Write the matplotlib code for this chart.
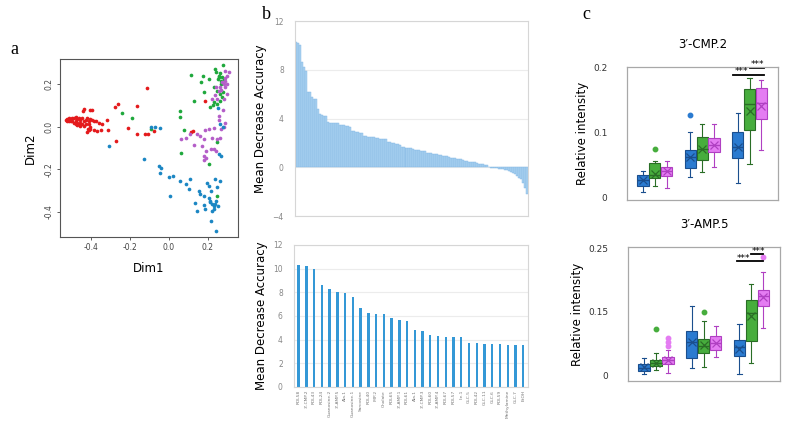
import numpy as np
import matplotlib
matplotlib.use("Agg")
import matplotlib.pyplot as plt

# ---- panel a: MDS scatter (Dim1, Dim2) per group ----
red_x = [-0.528, -0.520, -0.511, -0.503, -0.494, -0.486, -0.477, -0.469, -0.460, -0.452,
         -0.443, -0.435, -0.511, -0.494, -0.477, -0.469, -0.460, -0.452, -0.443, -0.486,
         -0.503, -0.520, -0.426, -0.418, -0.409, -0.401, -0.392, -0.384, -0.370, -0.358,
         -0.344, -0.315, -0.435, -0.440, -0.401, -0.392, -0.409, -0.401, -0.409, -0.418,
         -0.414, -0.401, -0.384, -0.366, -0.349, -0.310, -0.435, -0.452, -0.469, -0.477,
         -0.426, -0.273, -0.261, -0.162, -0.208, -0.162, -0.124, -0.106, -0.077, -0.269,
         -0.111, 0.186, 0.116, 0.124]
red_y = [0.033, 0.036, 0.038, 0.035, 0.042, 0.039, 0.045, 0.036, 0.042, 0.033,
         0.039, 0.027, 0.027, 0.024, 0.027, 0.019, 0.011, 0.019, 0.014, 0.017,
         0.024, 0.027, 0.033, 0.038, 0.027, 0.035, 0.030, 0.027, 0.024, 0.019,
         0.014, 0.031, 0.082, 0.074, 0.078, 0.077, 0.011, -0.002, -0.017, -0.025,
         -0.013, -0.013, -0.017, -0.020, -0.017, -0.016, 0.003, 0.003, 0.006, 0.011,
         0.014, 0.094, 0.108, 0.096, -0.008, -0.036, -0.033, -0.033, -0.020, -0.067,
         0.179, 0.121, -0.024, -0.022]
green_x = [-0.237, -0.187, -0.089, 0.060, 0.056, 0.077, 0.065, 0.112, 0.174, 0.167,
           0.181, 0.130, 0.205, 0.239, 0.244, 0.276, 0.264, 0.256, 0.269, 0.230,
           0.247, 0.264, 0.278, 0.213, 0.227, 0.247, 0.264, 0.274, 0.247, 0.206,
           0.247, 0.259, 0.273, 0.252, 0.281, 0.268, 0.230]
green_y = [0.064, 0.038, -0.013, 0.071, 0.045, -0.016, -0.125, 0.242, 0.238, 0.207,
           0.163, 0.121, 0.221, 0.270, 0.254, 0.290, 0.249, 0.231, 0.215, 0.187,
           0.168, 0.152, 0.160, 0.094, 0.100, 0.108, 0.121, 0.140, -0.072, -0.174,
           -0.326, 0.238, 0.231, 0.223, 0.223, 0.199, 0.113]
purple_x = [0.290, 0.307, 0.298, 0.290, 0.290, 0.273, 0.281, 0.298, 0.290, 0.264,
            0.244, 0.256, 0.239, 0.222, 0.247, 0.281, 0.298, 0.268, 0.276, 0.259,
            0.256, 0.286, 0.281, 0.268, 0.234, 0.264, 0.247, 0.222, 0.205, 0.187,
            0.162, 0.179, 0.145, 0.128, 0.170, 0.218, 0.230, 0.244, 0.193, 0.182,
            0.179, 0.193, 0.063, 0.107, 0.090]
purple_y = [0.262, 0.254, 0.238, 0.227, 0.215, 0.207, 0.199, 0.199, 0.184, 0.184,
            0.184, 0.168, 0.149, 0.129, 0.129, 0.129, 0.152, 0.171, 0.077, 0.050,
            0.030, 0.019, 0.000, -0.013, -0.005, -0.052, -0.060, -0.052, -0.013, -0.017,
            -0.044, -0.060, -0.033, -0.086, -0.091, -0.104, -0.107, -0.115, -0.115, -0.140,
            -0.158, -0.146, -0.060, -0.033, -0.055]
blue_x = [-0.307, -0.090, -0.070, -0.043, -0.128, -0.049, -0.039, -0.046, 0.000, 0.020,
          0.060, 0.107, 0.090, 0.102, 0.005, 0.136, 0.145, 0.153, 0.162, 0.179,
          0.196, 0.205, 0.216, 0.237, 0.261, 0.247, 0.205, 0.213, 0.222, 0.230,
          0.239, 0.252, 0.222, 0.230, 0.179, 0.187, 0.216, 0.242, 0.244, 0.213,
          0.252, 0.264, 0.278, 0.268, 0.256]
blue_y = [-0.091, -0.003, -0.002, -0.005, -0.154, -0.185, -0.193, -0.216, -0.237, -0.232,
          -0.256, -0.248, -0.271, -0.295, -0.326, -0.358, -0.397, -0.303, -0.318, -0.326,
          -0.264, -0.279, -0.303, -0.248, -0.256, -0.284, -0.334, -0.350, -0.365, -0.373,
          -0.365, -0.373, -0.397, -0.389, -0.369, -0.389, -0.444, -0.491, -0.350, -0.355,
          0.085, 0.011, -0.002, -0.138, -0.130]

# ---- panel b (top): mean decrease accuracy, all features sorted ----
mda_all = [10.3, 10.2, 10.0, 8.6, 8.2, 7.9, 6.2, 6.2, 5.8, 5.6,
           5.6, 4.8, 4.4, 4.3, 4.2, 4.2, 3.7,
           3.65, 3.65, 3.6, 3.6, 3.6,
           3.5, 3.5, 3.45, 3.4, 3.35, 3.3,
           3.0, 2.95, 2.9, 2.9, 2.85, 2.8,
           2.6, 2.55, 2.5, 2.5, 2.45, 2.45, 2.4, 2.4, 2.35, 2.35, 2.3, 2.3,
           2.1, 2.05, 2.0, 1.95, 1.9, 1.9, 1.85,
           1.7, 1.65, 1.6, 1.6, 1.55, 1.55,
           1.5, 1.45, 1.45, 1.4, 1.35, 1.3, 1.3,
           1.2, 1.2, 1.15, 1.1, 1.1, 1.05, 1.0, 1.0,
           0.95, 0.9, 0.9, 0.85, 0.8, 0.8, 0.75, 0.7, 0.7, 0.65, 0.6, 0.55,
           0.5, 0.45, 0.45, 0.4, 0.4, 0.35, 0.3, 0.3, 0.25, 0.2, 0.15,
           0.05, -0.05, -0.08,
           -0.1, -0.1, -0.12, -0.15, -0.15, -0.2, -0.25,
           -0.3, -0.35, -0.45, -0.55,
           -0.7, -0.85, -1.0,
           -1.3, -1.7, -2.2]

# ---- panel b (bottom): top 30 features ----
top_names = ["RDL58", "3'-CMP.2", "RDL43", "RDL24", "Guanosine.2", "3'-AMP.5", "Ala.1",
             "Guanosine.1", "Sarcosine", "RDL40", "IMP.2", "Cholate", "RDL65", "3'-AMP.1",
             "RDL61", "Ala.1", "3'-CMP.3", "RDL60", "3'-AMP.4", "RDL67", "RDL57", "Ile.1",
             "GLC.5", "RDL42", "GLC.11", "GLC.6", "RDL59", "Methylamine", "GLC.7", "EtOH"]
top_mda = [10.3, 10.25, 10.0, 8.65, 8.25, 8.0, 7.95, 7.6, 6.65, 6.25,
           6.2, 6.2, 5.8, 5.65, 5.6, 4.8, 4.75, 4.4, 4.35, 4.25,
           4.2, 4.2, 3.7, 3.7, 3.65, 3.6, 3.6, 3.55, 3.55, 3.55]

# ---- panel c: box statistics (3 time points x 3 groups) ----
# order per time point: blue, green, magenta
cmp_q1 = [0.018, 0.029, 0.033, 0.045, 0.057, 0.069, 0.060, 0.104, 0.121]
cmp_med = [0.027, 0.035, 0.040, 0.062, 0.075, 0.081, 0.078, 0.143, 0.145]
cmp_q3 = [0.035, 0.053, 0.047, 0.073, 0.093, 0.091, 0.100, 0.167, 0.168]
cmp_lo = [0.008, 0.018, 0.015, 0.032, 0.039, 0.046, 0.022, 0.052, 0.072]
cmp_hi = [0.041, 0.056, 0.056, 0.100, 0.113, 0.113, 0.130, 0.183, 0.180]
cmp_mean = [0.027, 0.036, 0.040, 0.062, 0.074, 0.080, 0.078, 0.133, 0.140]
cmp_out = [[], [0.075], [], [0.126], [], [], [], [], []]

amp_q1 = [0.009, 0.018, 0.022, 0.034, 0.043, 0.049, 0.038, 0.067, 0.136]
amp_med = [0.015, 0.024, 0.030, 0.065, 0.058, 0.064, 0.055, 0.122, 0.155]
amp_q3 = [0.022, 0.030, 0.036, 0.087, 0.072, 0.077, 0.069, 0.148, 0.168]
amp_lo = [0.002, 0.010, 0.005, 0.014, 0.016, 0.036, 0.003, 0.025, 0.094]
amp_hi = [0.034, 0.043, 0.049, 0.137, 0.107, 0.097, 0.100, 0.180, 0.203]
amp_mean = [0.016, 0.025, 0.030, 0.065, 0.060, 0.064, 0.052, 0.116, 0.153]
amp_out = [[], [0.092], [0.057, 0.066, 0.074], [], [0.124], [], [], [], [0.232]]

box_pos = [0, 1, 2, 4, 5, 6, 8, 9, 10]
fills = ['#2b7bd0', '#47ad3d', '#e47cf2'] * 3
edges = ['#1b4f8e', '#2a6e26', '#b040c2'] * 3

fig = plt.figure(figsize=(7.86, 4.28), dpi=100)

# ================= a =================
ax = fig.add_axes([0.0763, 0.4463, 0.2265, 0.4159])
ax.scatter(red_x, red_y, s=7, color='#e41a1c', linewidths=0)
ax.scatter(green_x, green_y, s=7, color='#1fa83c', linewidths=0)
ax.scatter(purple_x, purple_y, s=7, color='#b45ec8', linewidths=0)
ax.scatter(blue_x, blue_y, s=7, color='#1b86c3', linewidths=0)
ax.set_xlim(-0.557, 0.3545)
ax.set_ylim(-0.518, 0.317)
ax.set_xticks([-0.4, -0.2, 0.0, 0.2])
ax.set_yticks([-0.4, -0.2, 0.0, 0.2])
ax.set_xticklabels(['-0.4', '-0.2', '0.0', '0.2'])
ax.set_yticklabels(['-0.4', '-0.2', '0.0', '0.2'], rotation=90, va='center')
ax.tick_params(labelsize=5.5, length=2.5, width=0.6, colors='#444444', pad=2)
for s in ax.spines.values():
    s.set_color('#555555')
    s.set_linewidth(0.8)
ax.set_xlabel('Dim1', fontsize=8.5, labelpad=7)
ax.set_ylabel('Dim2', fontsize=8.5, labelpad=6)

# ================= b top =================
ax = fig.add_axes([0.3753, 0.4953, 0.2964, 0.4556])
n = len(mda_all)
ax.bar(np.arange(n), mda_all, width=1.0, color='#a9d1f0', edgecolor='#7fb6e3', linewidth=0.3)
ax.set_xlim(-0.5, n - 0.5)
ax.set_ylim(-4, 12)
ax.set_yticks([-4, 0, 4, 8, 12])
ax.set_xticks([])
ax.grid(axis='y', color='#ececec', linewidth=0.8)
ax.set_axisbelow(True)
ax.tick_params(axis='y', length=0, labelsize=5.5, colors='#888888', pad=8)
for s in ax.spines.values():
    s.set_color('#d6d6d6')
    s.set_linewidth(0.8)
ax.set_ylabel('Mean Decrease Accuracy', fontsize=8.5, labelpad=4)

# ================= b bottom =================
ax = fig.add_axes([0.374, 0.0958, 0.2977, 0.3318])
ax.bar(np.arange(len(top_mda)), top_mda, width=0.3, color='#3498d6')
ax.set_xlim(-0.6, len(top_mda) - 0.4)
ax.set_ylim(0, 12)
ax.set_yticks(range(0, 13, 2))
ax.set_xticks(np.arange(len(top_mda)))
ax.set_xticklabels(top_names, rotation=90, fontsize=3.2, color='#777777')
ax.grid(axis='y', color='#ececec', linewidth=0.8)
ax.set_axisbelow(True)
ax.tick_params(axis='y', length=0, labelsize=5.5, colors='#888888', pad=8)
ax.tick_params(axis='x', length=0, pad=2)
for s in ax.spines.values():
    s.set_color('#d6d6d6')
    s.set_linewidth(0.8)
ax.set_ylabel('Mean Decrease Accuracy', fontsize=8.5, labelpad=4)


def box_panel(rect, q1, med, q3, lo, hi, mean, out, title, ylim, yticks, ylabels, sig):
    ax = fig.add_axes(rect)
    for i in range(len(med)):
        st = dict(q1=q1[i], med=med[i], q3=q3[i], whislo=lo[i],
                  whishi=hi[i], mean=mean[i], fliers=out[i])
        ax.bxp([st], positions=[box_pos[i]], widths=0.95, patch_artist=True,
               showmeans=True, showfliers=True,
               boxprops=dict(facecolor=fills[i], edgecolor=edges[i], linewidth=0.8),
               medianprops=dict(color=edges[i], linewidth=1.0),
               whiskerprops=dict(color=edges[i], linewidth=0.8),
               capprops=dict(color=edges[i], linewidth=0.8),
               capwidths=0.35,
               meanprops=dict(marker='x', markeredgecolor=edges[i], markersize=6,
                              markeredgewidth=0.9),
               flierprops=dict(marker='o', markerfacecolor=fills[i],
                               markeredgecolor=fills[i], markersize=3.2))
    ax.set_xlim(-1.35, 11.4)
    ax.set_ylim(*ylim)
    ax.set_xticks([])
    ax.set_yticks(yticks)
    ax.set_yticklabels(ylabels)
    ax.tick_params(axis='y', length=0, labelsize=6.5, colors='#333333', pad=14)
    for s in ax.spines.values():
        s.set_color('#a8a8a8')
        s.set_linewidth(0.9)
    ax.set_title(title, fontsize=8.5, pad=14)
    ax.set_ylabel('Relative intensity', fontsize=8.5, labelpad=3)
    span = ylim[1] - ylim[0]
    for x0, x1, y, xs in sig:
        ax.plot([x0, x1], [y, y], color='black', linewidth=1.3)
        ax.text(xs, y - span * 0.012, '***', fontsize=6.5, ha='center', va='bottom')
    return ax


box_panel([0.7977, 0.5327, 0.1921, 0.3107], cmp_q1, cmp_med, cmp_q3, cmp_lo, cmp_hi,
          cmp_mean, cmp_out, '3\u2032-CMP.2', (-0.004, 0.2),
          [0, 0.1, 0.2], ['0', '0.1', '0.2'],
          [(7.6, 10.2, 0.188, 8.3), (9.0, 10.2, 0.199, 9.65)])
box_panel([0.799, 0.1098, 0.1934, 0.3131], amp_q1, amp_med, amp_q3, amp_lo, amp_hi,
          amp_mean, amp_out, '3\u2032-AMP.5', (-0.011, 0.252),
          [0, 0.125, 0.25], ['0', '0.15', '0.25'],
          [(7.8, 10.0, 0.224, 8.3), (9.0, 10.0, 0.238, 9.6)])

# panel letters
for lab, x, y in [('a', 0.013, 0.885), ('b', 0.333, 0.965), ('c', 0.741, 0.965)]:
    fig.text(x, y, lab, fontsize=13, family='Liberation Serif', ha='left', va='center')

fig.savefig('out.png', dpi=100)
